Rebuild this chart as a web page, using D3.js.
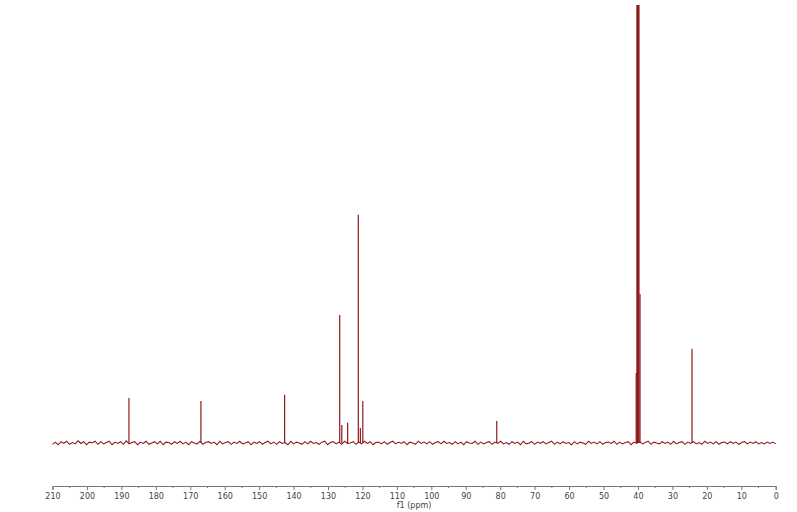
<!DOCTYPE html>
<html>
<head>
<meta charset="utf-8">
<script src="https://cdn.jsdelivr.net/npm/d3@7/dist/d3.min.js"></script>
<style>
	body { margin: 0; background: #fff; }
	svg { display: block; }
	.axis text { font-family: 'DejaVu Sans', sans-serif; font-size: 8px; fill: #444; }
	.axis path, .axis line { stroke: #777; }
</style>
</head>
<body>
<div id="spectrum"></div>
<script>
var width = 797,
	height = 512;

// peak positions (ppm) and heights (% of plot height, >100 is clipped)
var peakPpm = [187.8, 166.9, 142.6, 126.6, 126.0, 124.3, 121.2, 120.6, 119.9, 81.0,
	40.5, 40.3, 40.1, 39.9, 39.7, 39.4, 24.3];
var peakHeight = [10.3, 9.6, 11.0, 29.2, 4.1, 4.6, 52.1, 3.4, 9.6, 5.0,
	16, 140, 160, 150, 110, 34, 21.5];

// baseline noise, left to right (210 -> 0 ppm)
var noise = [-0.3, 0.2, -0.4, 0.3, -0.1, 0.4, -0.3, 0.1, -0.2, 0.5, -0.1, 0.3, -0.4, 0.2, 0.0, 0.4,
	-0.3, 0.3, -0.2, 0.1, 0.4, -0.4, 0.2, -0.1, 0.3, -0.3, 0.5, -0.2, 0.1, 0.3, -0.4, 0.2,
	-0.1, 0.4, -0.3, 0.0, 0.3, -0.2, 0.4, -0.4, 0.2, 0.1, -0.3, 0.3, -0.1, 0.4, -0.2, 0.2,
	-0.4, 0.3, 0.0, -0.2, 0.4, -0.3, 0.1, 0.3, -0.1, 0.2, -0.4, 0.4, -0.2, 0.1, 0.3, -0.3,
	0.2, -0.1, 0.4, -0.2, 0.0, 0.3, -0.4, 0.2, -0.1, 0.3, -0.3, 0.1, 0.4, -0.2, 0.2, -0.3,
	0.3, -0.1, 0.1, -0.4, 0.4, -0.2, 0.2, 0.0, -0.3, 0.3, -0.2, 0.4, -0.1, 0.1, -0.3, 0.2,
	0.4, -0.4, 0.1, 0.3, -0.2, 0.2, -0.3, 0.4, -0.1, 0.0, 0.3, -0.3, 0.2, -0.2, 0.4, -0.1,
	0.3, -0.4, 0.1, 0.2, -0.2, 0.3, -0.3, 0.1, 0.4, -0.2, 0.2, -0.1, 0.3, -0.4, 0.2, 0.0,
	-0.3, 0.4, -0.1, 0.2, -0.2, 0.3, -0.3, 0.1, 0.3, -0.2, 0.4, -0.1, 0.1, -0.3, 0.3, -0.2,
	0.2, -0.4, 0.3, 0.0, -0.1, 0.4, -0.3, 0.2, -0.2, 0.1, 0.3, -0.3, 0.2, -0.1, 0.4, -0.2,
	0.1, -0.3, 0.3, -0.1, 0.2, -0.4, 0.4, -0.2, 0.0, 0.3, -0.3, 0.2, -0.1, 0.3, -0.2, 0.1,
	0.4, -0.3, 0.2, -0.2, 0.3, -0.1, 0.1, -0.4, 0.3, -0.2, 0.2, 0.0, -0.3, 0.4, -0.1, 0.2,
	-0.2, 0.3, -0.3, 0.1, 0.2, -0.1, 0.4, -0.3, 0.2, -0.2, 0.1, 0.3, -0.4, 0.2, -0.1, 0.3,
	-0.2, 0.1, 0.4, -0.3, 0.2, 0.0, -0.2, 0.3, -0.1, 0.2, -0.3, 0.4, -0.2, 0.1, 0.3, -0.3,
	0.2, -0.1, 0.3, -0.2, 0.1, -0.3, 0.4, -0.1, 0.2, -0.2, 0.3, -0.3, 0.1, 0.2, -0.2, 0.3,
	-0.1, 0.2, -0.3, 0.1, 0.3, -0.2, 0.2, -0.1, 0.3, -0.2, 0.1, -0.2, 0.2, -0.1, 0.2, -0.2];

var majorTicks = d3.range(210, -1, -10);
var minorTicks = d3.range(205, 0, -10);

var svg = d3.select('#spectrum').append('svg')
	.attr('width', width)
	.attr('height', height);

var x = d3.scaleLinear()
	.domain([210, 0])
	.range([52.5, 775.7]);

var y = d3.scaleLinear()
	.domain([0, 100])
	.range([443, 5]);

svg.append('clipPath')
	.attr('id', 'plotclip')
	.append('rect')
	.attr('x', 40).attr('y', 5)
	.attr('width', 750).attr('height', 460);

var plot = svg.append('g')
	.attr('clip-path', 'url(#plotclip)');

// baseline
var step = 210 / (noise.length - 1);
var line = d3.line()
	.x(function(d, i) { return x(210 - i * step); })
	.y(function(d) { return y(d); });

plot.append('path')
	.datum(noise)
	.attr('d', line)
	.style('fill', 'none')
	.style('stroke', '#8b1a1a')
	.style('stroke-width', 1.1);

// peaks
plot.selectAll('line.peak')
	.data(peakPpm)
	.enter()
	.append('line')
	.classed('peak', true)
	.attr('x1', function(d) { return x(d); })
	.attr('x2', function(d) { return x(d); })
	.attr('y1', y(0))
	.attr('y2', function(d, i) { return y(peakHeight[i]); })
	.style('stroke', '#8b1a1a')
	.style('stroke-width', 1.2);

// axis
var axis = svg.append('g')
	.attr('class', 'axis')
	.attr('transform', 'translate(0,486)');

axis.call(d3.axisBottom(x)
	.tickValues(majorTicks)
	.tickSize(4)
	.tickSizeOuter(4)
	.tickFormat(d3.format('d')));

axis.selectAll('.tick text').attr('y', 7);

axis.selectAll('line.minor')
	.data(minorTicks)
	.enter()
	.append('line')
	.classed('minor', true)
	.attr('x1', function(d) { return x(d); })
	.attr('x2', function(d) { return x(d); })
	.attr('y1', 0)
	.attr('y2', 2);

svg.append('text')
	.attr('x', x(105))
	.attr('y', 508)
	.attr('text-anchor', 'middle')
	.style('font-family', "'DejaVu Sans', sans-serif")
	.style('font-size', '8px')
	.style('fill', '#444')
	.text('f1 (ppm)');
</script>
</body>
</html>
